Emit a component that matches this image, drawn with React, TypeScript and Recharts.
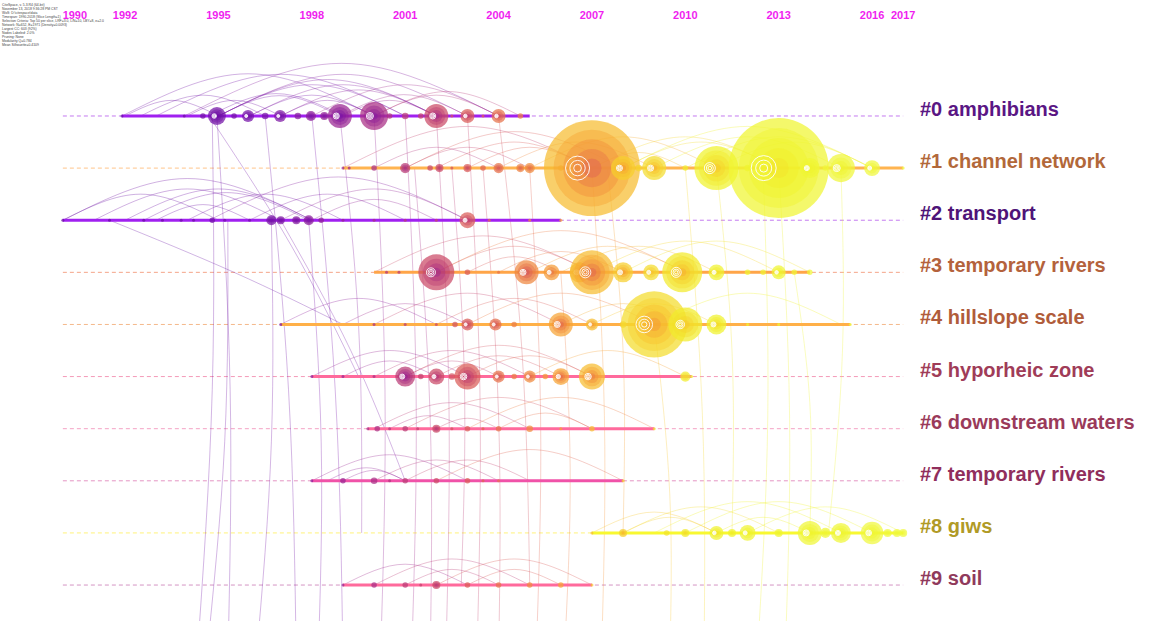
import { ComposedChart, Line, Scatter, XAxis, YAxis } from "recharts";

// timeline ticks along the top
const yearTicks = [1990, 1992, 1995, 1998, 2001, 2004, 2007, 2010, 2013, 2016, 2017];
const clusterIds = [0, 1, 2, 3, 4, 5, 6, 7, 8, 9];

const clusterLabels = [
  "#0 amphibians",
  "#1 channel network",
  "#2 transport",
  "#3 temporary rivers",
  "#4 hillslope scale",
  "#5 hyporheic zone",
  "#6 downstream waters",
  "#7 temporary rivers",
  "#8 giws",
  "#9 soil",
];
const labelColors = ["#5a1684", "#b2683a", "#4e1478", "#b4623c", "#b05c3a", "#a03c58", "#9a3a5a", "#902e5c", "#b09a26", "#903a5c"];

// active span of each cluster
const spanStart = [1991.9, 1999, 1990, 2000, 1997, 1998, 1999.8, 1998, 2007, 1999];
const spanEnd = [2005, 2017, 2006, 2014, 2015.3, 2010.2, 2009, 2008, 2017, 2007];
const spanColors = ["#a020f0", "#ffb450", "#a020f0", "#ffa548", "#ffb048", "#ff6a9c", "#ff6a9c", "#f052a8", "#f8f830", "#ff6a9c"];
const dashColors = ["#c47af0", "#ffc48a", "#c47af0", "#f4a488", "#f4b88a", "#f49ab8", "#f4a2c4", "#e494c4", "#fff27a", "#d494c4"];

// cited references per cluster: [year, citations]
const amphibians = [[1991.9, 0], [1993.9, 0], [1994.5, 1], [1994.95, 35], [1995.5, 1], [1995.95, 13], [1996.5, 2], [1996.98, 13], [1997.55, 2], [1997.97, 8], [1998.4, 4], [1998.9, 69], [2000, 98], [2000.5, 1], [2001, 2], [2001.5, 1], [2002, 69], [2002.5, 0], [2003, 19], [2003.5, 0], [2004, 19], [2004.7, 1]];
const channelNetwork = [[1999, 0], [1999.2, 0], [2000, 1], [2001, 8], [2001.8, 1], [2002.1, 4], [2002.5, 0], [2003, 4], [2003.5, 1], [2004, 8], [2004.7, 4], [2005, 8], [2006, 1], [2007, 1350], [2008, 69], [2008.5, 2], [2009, 69], [2010, 1], [2011, 263], [2012, 2], [2013, 1470], [2014, 45], [2014.5, 1], [2015, 98], [2016, 26], [2017, 0]];
const transport = [[1990, 0], [1991.5, 0], [1992.6, 0], [1993.2, 0], [1993.8, 0], [1994.2, 0], [1994.8, 1], [1995.2, 0], [1996, 0], [1996.7, 8], [1997, 4], [1997.5, 4], [1997.9, 8], [1998.3, 1], [1999, 0], [2000, 0], [2001, 0], [2002, 0], [2003, 26], [2003.7, 0], [2005, 0], [2006, 0]];
const temporaryRivers = [[2000.4, 0], [2000.8, 0], [2002, 170], [2003, 1], [2004, 0], [2004.9, 69], [2005.7, 26], [2006.6, 45], [2007, 263], [2008, 45], [2008.9, 26], [2009.9, 214], [2011, 26], [2012, 1], [2012.5, 1], [2013, 19], [2013.5, 1], [2014, 1]];
const hillslopeScale = [[1997, 0], [2000, 0], [2001, 0], [2002, 0], [2002.6, 1], [2003, 13], [2003.9, 13], [2004.5, 1], [2006, 69], [2007, 13], [2008, 2], [2009, 624], [2010, 150], [2011, 45], [2012, 0], [2013, 0], [2015.3, 0]];
const hyporheicZone = [[1998, 0], [1999, 0], [2000, 0], [2001, 45], [2001.5, 1], [2002, 26], [2002.5, 2], [2003, 83], [2004, 13], [2004.5, 1], [2005, 13], [2005.5, 1], [2006, 30], [2007, 83], [2010, 8], [2010.2, 0]];
const downstreamWaters = [[1999.8, 0], [2000.1, 1], [2000.5, 0], [2001, 1], [2001.4, 0], [2002, 4], [2002.5, 0], [2003, 1], [2003.5, 0], [2004, 1], [2005, 2], [2006, 0], [2007, 1], [2009, 0]];
const temporaryRivers2 = [[1998, 0], [1999, 1], [2000, 2], [2000.5, 0], [2001, 1], [2002, 1], [2003, 1], [2003.5, 0], [2004, 0], [2008, 0]];
const giws = [[2007, 0], [2008, 4], [2009.4, 1], [2010, 4], [2011, 19], [2011.5, 4], [2012, 26], [2013, 4], [2014, 69], [2014.5, 8], [2015, 45], [2016, 60], [2016.5, 4], [2016.8, 4], [2017, 4]];
const soil = [[1999, 0], [2000, 1], [2001, 1], [2001.5, 0], [2002, 4], [2003, 1], [2004, 1], [2005, 1], [2006, 1], [2007, 0]];
const clusterNodes = [amphibians, channelNetwork, transport, temporaryRivers, hillslopeScale, hyporheicZone, downstreamWaters, temporaryRivers2, giws, soil];

// co-citation links inside a cluster: [from, to]
const clusterArcs = [
  [[1991.9, 2000], [1993, 2001], [1994.7, 1999], [1995, 2001], [1995, 2003], [1996, 2000], [1997, 2002], [1998, 2004], [1999, 2002], [2000, 2004], [1994, 1997], [1992, 1995], [1993.9, 2004], [1995, 2002], [1996, 2002], [1997, 2000], [1998.9, 2003], [1995, 1998.9], [2000, 2004.7], [1992.5, 1996.5]],
  [[1999, 2007], [2001, 2005], [2002, 2007], [2003, 2007], [2004, 2009], [2005, 2011], [2007, 2013], [2008, 2013], [2009, 2015], [2011, 2016], [2007, 2010], [2010, 2016], [2000, 2004], [2001, 2008], [2008, 2016]],
  [[1990, 1995], [1991, 1997], [1992, 1998], [1993, 1996], [1994.7, 2003], [1997, 2003], [1996, 2001], [1990, 1998], [1992.6, 1997.9], [1994, 1999], [1998, 2002]],
  [[2000, 2007], [2002, 2007], [2002, 2010], [2005, 2010], [2006, 2011], [2007, 2013], [2008, 2014], [2004, 2008], [2003, 2006]],
  [[1997, 2002], [2000, 2006], [2003, 2009], [2006, 2010], [2007, 2011], [2009, 2015], [2002, 2007], [1999, 2003]],
  [[1998, 2003], [2001, 2004], [2001, 2007], [2002, 2006], [2003, 2007], [2000, 2005], [2005, 2010], [1999, 2002]],
  [[2000, 2005], [2001, 2007], [2002, 2004], [2003, 2009], [2004, 2007], [2000.5, 2003]],
  [[1998, 2003], [2000, 2004], [2001, 2005], [2002, 2008], [1999, 2001], [1998.5, 2001]],
  [[2008, 2013], [2009, 2015], [2010, 2016], [2011, 2014], [2012, 2017], [2007, 2011], [2008, 2011]],
  [[1999, 2003], [2000, 2005], [2002, 2007], [2001, 2004], [2003, 2006]],
];

// links between clusters: [fromYear, fromCluster, toYear, toCluster]
const crossLinks = [
  [1994.8, 0, 1994.3, 10.5], [1994.95, 0, 1995.3, 10.5], [1995.3, 2, 1994.6, 10.5], [1996.7, 2, 1996.2, 10.5],
  [1996.5, 0, 1997.5, 10.5], [1997.9, 2, 1998.2, 10.5], [1998, 0, 1999, 10.5], [1998.9, 0, 1999.6, 8],
  [2000, 0, 2000.2, 10.5], [1994.7, 0, 1999.5, 5], [1991.5, 2, 1999, 4], [1997, 2, 2001, 7],
  [2001, 0, 2001.2, 10.5], [2001.3, 1, 2001.8, 10.5], [2002, 0, 2002.3, 10.5], [2002.5, 1, 2002.8, 9],
  [2003, 0, 2003.3, 10.5], [2003.5, 1, 2004, 10.5], [2004, 0, 2005, 9], [2005, 1, 2005.2, 10.5], [2006, 3, 2006.1, 10.5],
  [2007, 1, 2007.3, 10.5], [2007.5, 1, 2008, 8], [2009, 4, 2009.5, 10.5], [2010, 1, 2010.6, 10.5],
  [2011, 1, 2011.5, 8], [2012.5, 1, 2012.3, 10.5], [2013, 1, 2013.2, 10.5], [2013.5, 3, 2014, 8], [2015, 1, 2014.6, 8],
];

const metaLines = [
  "CiteSpace, v. 5.3.R4 (64-bit)",
  "November 13, 2018 9:36:28 PM CST",
  "WoS: D:\\citespace\\data",
  "Timespan: 1990-2018 (Slice Length=1)",
  "Selection Criteria: Top 50 per slice, LRF=3.0, L/N=10, LBY=8, e=2.0",
  "Network: N=652, E=1971 (Density=0.0093)",
  "Largest CC: 603 (92%)",
  "Nodes Labeled: 2.0%",
  "Pruning: None",
  "Modularity Q=0.784",
  "Mean Silhouette=0.4109",
];

const colorStops: [number, number[]][] = [
  [1990, [100, 10, 160]],
  [1997, [118, 18, 168]],
  [2000, [160, 40, 140]],
  [2002, [195, 65, 110]],
  [2004, [225, 100, 80]],
  [2006, [245, 150, 55]],
  [2008, [248, 200, 45]],
  [2011, [240, 242, 42]],
  [2018, [240, 250, 64]],
];

function yearColor(year: number) {
  const y = Math.max(1990, Math.min(2018, year));
  for (let i = 0; i < colorStops.length - 1; i++) {
    const [a, ca] = colorStops[i];
    const [b, cb] = colorStops[i + 1];
    if (y >= a && y <= b) {
      const t = (y - a) / (b - a);
      const c = ca.map((v, k) => Math.round(v + (cb[k] - v) * t));
      return `rgb(${c[0]},${c[1]},${c[2]})`;
    }
  }
  return "rgb(240,250,64)";
}

function Bubble(props: any) {
  const { cx, cy, payload } = props;
  if (cx == null || cy == null) return null;
  const r = 1.5 + 4 * Math.sqrt(payload.n / 10);
  const rings = r > 20 ? 5 : r > 8 ? 4 : r > 4 ? 3 : 1;
  const parts = [];
  for (let i = 0; i < rings; i++) {
    parts.push(
      <circle
        key={i}
        cx={cx}
        cy={cy}
        r={(r * (rings - i)) / rings}
        fill={yearColor(payload.x + 0.5 - i * 0.9)}
        fillOpacity={i === 0 ? 0.72 : 0.45}
      />
    );
  }
  if (r > 6) {
    const wx = cx - r * 0.3;
    [0.08, 0.16, 0.25].forEach((k, i) =>
      parts.push(<circle key={`w${i}`} cx={wx} cy={cy} r={r * k} fill="none" stroke="#fff" strokeWidth={1} strokeOpacity={0.9} />)
    );
  }
  return <g>{parts}</g>;
}

function YearTick(props: any) {
  const { x, y, payload } = props;
  const shift = payload.value === 1990 ? 12 : 0;
  return (
    <text x={x + shift} y={y - 3} textAnchor="middle" fill="#f01ef0" fontSize={11} fontWeight="bold" fontFamily="'Liberation Sans', Arial, sans-serif">
      {payload.value}
    </text>
  );
}

function ClusterTick(props: any) {
  const { x, y, payload } = props;
  return (
    <text x={x} y={y} fill={labelColors[payload.value]} fontSize={20} fontWeight="bold" fontFamily="'Liberation Sans', Arial, sans-serif">
      {clusterLabels[payload.value]}
    </text>
  );
}

const lineProps = { dataKey: "y", dot: false, activeDot: false, isAnimationActive: false, legendType: "none" as const };

export default function App() {
  const nodeData = clusterNodes.map((list, c) => list.map(([x, n]) => ({ x, y: c, n })));
  const arcData = clusterArcs.flatMap((arcs, c) =>
    arcs.map(([a, b]) => [
      { x: a, y: c },
      { x: (a + b) / 2, y: c - 0.1 * (b - a) },
      { x: b, y: c },
    ])
  );
  const arcColors = clusterArcs.flatMap((arcs) => arcs.map(([a, b]) => yearColor((a + b) / 2 - 1)));
  const crossData = crossLinks.map(([x1, c1, x2, c2]) => [
    { x: x1, y: c1 },
    { x: (x1 + x2) / 2 + 0.25, y: (c1 + c2) / 2 },
    { x: x2, y: c2 },
  ]);

  return (
    <div style={{ position: "absolute", left: 0, top: 0, width: 1149, height: 621, background: "#fff", overflow: "hidden" }}>
      <div style={{ position: "absolute", left: 2, top: 3, fontFamily: "'Liberation Sans', Arial, sans-serif", fontSize: "3.4px", lineHeight: "4px", color: "#444" }}>
        {metaLines.map((t) => (
          <div key={t}>{t}</div>
        ))}
      </div>
      <ComposedChart width={1149} height={621} margin={{ top: 0, right: 0, bottom: 0, left: 0 }}>
        <XAxis
          dataKey="x"
          type="number"
          orientation="top"
          domain={[1987.98, 2017.38]}
          allowDataOverflow
          ticks={yearTicks}
          interval={0}
          height={30}
          axisLine={false}
          tickLine={false}
          tick={YearTick}
        />
        <YAxis
          dataKey="y"
          type="number"
          orientation="right"
          domain={[-1.65, 9.69]}
          reversed
          allowDataOverflow
          ticks={clusterIds}
          interval={0}
          width={234}
          axisLine={false}
          tickLine={false}
          tickSize={3}
          tick={ClusterTick}
        />
        {clusterIds.map((c) => (
          <Line
            key={`dash${c}`}
            {...lineProps}
            data={[{ x: 1990, y: c }, { x: 2017, y: c }]}
            stroke={dashColors[c]}
            strokeWidth={1}
            strokeDasharray="4 3"
          />
        ))}
        {crossData.map((d, i) => (
          <Line
            key={`cross${i}`}
            {...lineProps}
            data={d}
            type="natural"
            stroke={yearColor(crossLinks[i][0] - 1)}
            strokeOpacity={0.3}
            strokeWidth={1}
          />
        ))}
        {arcData.map((d, i) => (
          <Line key={`arc${i}`} {...lineProps} data={d} type="natural" stroke={arcColors[i]} strokeOpacity={0.32} strokeWidth={1} />
        ))}
        {clusterIds.map((c) => (
          <Line
            key={`span${c}`}
            {...lineProps}
            data={[{ x: spanStart[c], y: c }, { x: spanEnd[c], y: c }]}
            stroke={spanColors[c]}
            strokeWidth={3}
          />
        ))}
        {nodeData.map((d, c) => (
          <Scatter key={`nodes${c}`} data={d} shape={Bubble} isAnimationActive={false} legendType="none" />
        ))}
      </ComposedChart>
    </div>
  );
}
